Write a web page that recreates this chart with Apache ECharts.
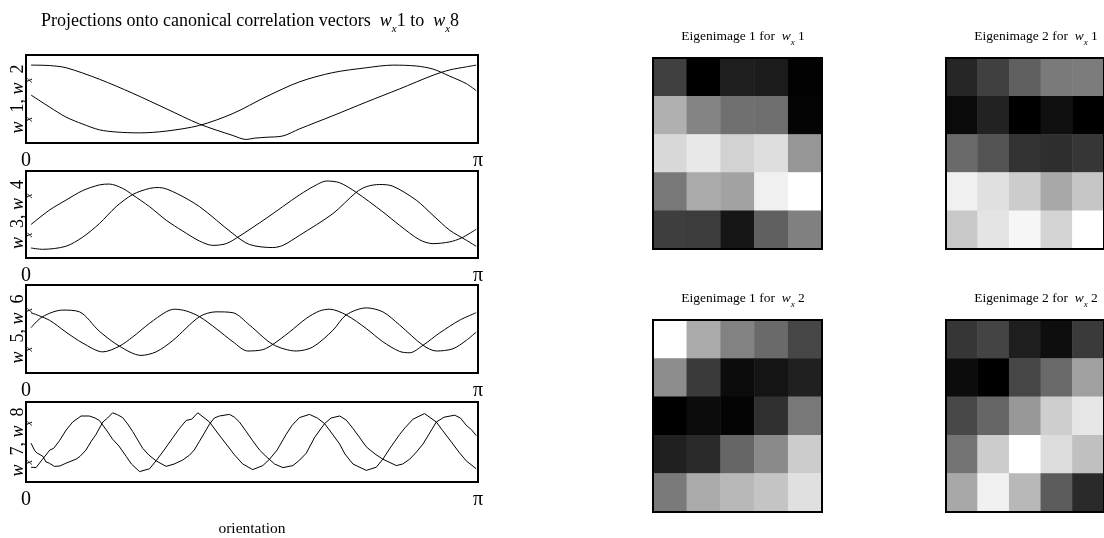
<!DOCTYPE html>
<html>
<head>
<meta charset="utf-8">
<script src="https://cdn.jsdelivr.net/npm/echarts@6/dist/echarts.min.js"></script>
<style>
  html, body { margin: 0; background: #fff; }
  #chart { width: 1104px; height: 538px; }
</style>
</head>
<body>
<div id="chart"></div>
<script>
// projections, [orientation in degrees (180 = π), value]
const w1 = [[2,0.77],[9.3,0.76],[16,0.71],[29.2,0.45],[42.5,0.13],[55.8,-0.22],[69.1,-0.57],[82.4,-0.83],[87.7,-0.92],[91,-0.89],[95.6,-0.87],[102.3,-0.84],[108.9,-0.68],[122.2,-0.38],[135.5,-0.07],[148.8,0.23],[162.1,0.54],[168.7,0.66],[175.3,0.73],[179.3,0.77]]
const w2 = [[2,0.09],[9.3,-0.18],[15.9,-0.41],[22.6,-0.57],[29.2,-0.7],[35.9,-0.75],[45.2,-0.77],[55.8,-0.73],[69.1,-0.6],[82.4,-0.33],[95.6,0.05],[108.9,0.39],[122.2,0.6],[135.5,0.71],[146.1,0.77],[155.4,0.75],[162.1,0.68],[168.7,0.52],[175.3,0.35],[179.3,0.19]]
const w3 = [[2,-0.23],[9.3,0.1],[15.9,0.33],[22.6,0.55],[29.2,0.68],[33.2,0.7],[38.5,0.6],[42.5,0.45],[49.2,0.18],[55.8,-0.13],[62.4,-0.38],[69.1,-0.61],[74.4,-0.71],[79.7,-0.67],[84.4,-0.52],[95.6,-0.09],[108.9,0.45],[115.6,0.68],[119.6,0.77],[124.9,0.73],[131.5,0.51],[142.1,0.06],[148.8,-0.25],[156.7,-0.58],[162.1,-0.67],[168.7,-0.63],[173.4,-0.54],[179.3,-0.34]]
const w4 = [[2,-0.77],[6.6,-0.8],[15.9,-0.73],[22.6,-0.52],[29.2,-0.21],[35.9,0.18],[42.5,0.46],[49.2,0.6],[53.1,0.62],[59.8,0.49],[69.1,0.18],[82.4,-0.44],[89,-0.69],[98.3,-0.76],[102.3,-0.71],[108.9,-0.48],[122.2,0.02],[131.5,0.51],[135.5,0.64],[140.8,0.69],[146.1,0.65],[155.4,0.33],[162.1,-0.02],[168.7,-0.36],[175.3,-0.59],[179.3,-0.73]]
const w5 = [[2,0.37],[9.3,0.2],[15.9,-0.07],[22.6,-0.32],[30.6,-0.52],[37.2,-0.39],[42.5,-0.18],[49.2,0.13],[55.8,0.39],[59.1,0.45],[63.8,0.41],[69.1,0.28],[75.7,0.01],[82.4,-0.29],[88.3,-0.5],[94.3,-0.47],[98.3,-0.35],[104.9,-0.07],[111.6,0.24],[116.9,0.41],[120.9,0.45],[127.5,0.32],[135.5,0.01],[142.1,-0.29],[148.8,-0.51],[152.8,-0.54],[158.1,-0.37],[164.7,-0.09],[172.7,0.2],[179.3,0.37]]
const w6 = [[2,0.03],[6.6,0.28],[14.6,0.43],[21.3,0.39],[29.2,-0.05],[37.2,-0.39],[45.8,-0.6],[51.8,-0.52],[58.5,-0.26],[69.1,0.28],[75.7,0.39],[82.4,0.37],[89,0.09],[98.3,-0.35],[107.6,-0.5],[114.2,-0.41],[122.2,-0.03],[127.5,0.32],[135.5,0.48],[142.1,0.39],[148.8,0.09],[158.1,-0.37],[163.4,-0.5],[170,-0.45],[175.3,-0.26],[179.3,-0.07]]
const w7 = [[2,-0.63],[4,-0.64],[6.6,-0.43],[9.5,-0.2],[11,-0.16],[13.3,0.03],[16,0.3],[18.6,0.5],[21.9,0.65],[25.2,0.65],[27.5,0.6],[29.2,0.54],[32,0.3],[34.5,0.07],[37,-0.1],[39.9,-0.36],[42,-0.55],[45.2,-0.74],[49.2,-0.67],[51.8,-0.47],[55,-0.2],[58.5,0.11],[61,0.33],[63.8,0.54],[66,0.57],[68.4,0.73],[73.1,0.5],[76,0.25],[79.7,-0.05],[83,-0.32],[86.3,-0.55],[90.3,-0.69],[94.3,-0.59],[97,-0.43],[100,-0.2],[103.6,0.19],[106,0.42],[108.9,0.61],[112.9,0.69],[116,0.6],[118.9,0.46],[122,0.2],[124.9,-0.05],[127,-0.3],[130.2,-0.55],[135.5,-0.71],[139.5,-0.63],[142.1,-0.43],[145,-0.15],[148.8,0.19],[151,0.36],[154.1,0.57],[158.7,0.71],[163.4,0.5],[166,0.28],[170,-0.05],[172.5,-0.26],[175.3,-0.47],[179.3,-0.67]]
const w8 = [[2,-0.03],[3.5,-0.22],[4.5,-0.28],[6.6,-0.35],[8,-0.5],[9.3,-0.53],[11.3,-0.61],[13.5,-0.6],[15.9,-0.53],[19.9,-0.43],[21.5,-0.36],[23.9,-0.2],[26,0.02],[27.9,0.19],[30.6,0.5],[32.5,0.6],[34.5,0.73],[36.5,0.68],[38.5,0.61],[40.5,0.45],[42.5,0.26],[44.5,0.05],[46.5,-0.16],[49,-0.33],[51.8,-0.47],[55.8,-0.61],[59,-0.55],[62.4,-0.45],[65.1,-0.33],[67,-0.2],[69.1,0.02],[71,0.22],[73.1,0.45],[75,0.6],[77,0.65],[81,0.69],[83,0.62],[85,0.5],[87.5,0.28],[90.3,0.03],[93,-0.2],[95.6,-0.36],[99,-0.55],[102.3,-0.64],[106.3,-0.59],[109,-0.45],[111.6,-0.28],[115,0.12],[118.9,0.46],[121.5,0.6],[124.9,0.65],[127.5,0.55],[130.2,0.34],[133,0.1],[135.5,-0.12],[139,-0.3],[142.1,-0.43],[147.5,-0.59],[150,-0.55],[152.8,-0.43],[155.5,-0.25],[158.1,-0.05],[161,0.25],[163.4,0.5],[166.5,0.62],[170.7,0.67],[173,0.6],[175.3,0.42],[177.5,0.3],[179.3,0.16]]

// eigenimages, grey level per pixel (0 black .. 255 white), rows top to bottom
const eig1w1 = [[64,0,30,28,2],[176,132,112,110,4],[216,232,210,222,150],[120,170,162,240,255],[62,60,22,96,128]]
const eig2w1 = [[38,64,96,122,124],[10,34,0,16,0],[106,84,50,46,54],[240,224,204,168,198],[200,228,246,212,255]]
const eig1w2 = [[255,170,130,106,70],[140,58,12,20,32],[0,12,4,48,120],[32,42,102,138,204],[122,170,184,196,224]]
const eig2w2 = [[54,68,30,14,58],[12,0,70,106,160],[72,102,152,206,230],[116,204,255,220,192],[168,240,184,92,42]]

const pixelCols = ['1', '2', '3', '4', '5']
const pixelRows = ['1', '2', '3', '4', '5']

const serif = 'Liberation Serif'

// rich text styles; the subscript x is pushed down with top padding
function richStyles (size, subSize, subDrop) {
  return {
    n: { fontSize: size, fontFamily: serif, fontWeight: 'normal', color: '#000' },
    w: { fontSize: size, fontFamily: serif, fontStyle: 'italic', fontWeight: 'normal', color: '#000' },
    s: { fontSize: subSize, fontFamily: serif, fontStyle: 'italic', fontWeight: 'normal', color: '#000', padding: [subDrop, 0, 0, 0] }
  }
}

const lineBoxes = [[55, 88], [171, 87], [285, 88], [402, 86]]
const linePairs = [[w1, w2, 1, 2], [w3, w4, 3, 4], [w5, w6, 5, 6], [w7, w8, 7, 8]]

const heatBoxes = [[653, 58, 169, 191], [946, 58, 170, 191], [653, 320, 169, 192], [946, 320, 170, 192]]
const heatImages = [eig1w1, eig2w1, eig1w2, eig2w2]
const heatTitles = [['1', '1'], ['2', '1'], ['1', '2'], ['2', '2']]

const grid = []
const xAxis = []
const yAxis = []
const series = []

lineBoxes.forEach(function (b, i) {
  grid.push({ left: 26, width: 452, top: b[0], height: b[1], show: true, borderColor: '#000', borderWidth: 2, z: 5 })
  xAxis.push({
    type: 'value', gridIndex: i, min: 0, max: 180, interval: 180,
    axisLine: { show: false }, axisTick: { show: false }, splitLine: { show: false },
    axisLabel: {
      margin: 8, fontSize: 20, fontFamily: serif, color: '#000',
      formatter: function (v) { return v === 0 ? '0' : 'π' }
    },
    name: i === 3 ? 'orientation' : '',
    nameLocation: 'middle', nameGap: 39,
    nameTextStyle: { fontSize: 15.5, fontFamily: serif, color: '#000' }
  })
  const p = linePairs[i]
  yAxis.push({
    type: 'value', gridIndex: i, min: -1, max: 1,
    axisLine: { show: false }, axisTick: { show: false }, splitLine: { show: false },
    axisLabel: { show: false },
    name: '{w|w}{s|x}{n| ' + p[2] + ', }{w|w}{s|x}{n| ' + p[3] + '}',
    nameLocation: 'middle', nameRotate: 90, nameGap: -8,
    nameTextStyle: { rich: richStyles(18, 10, 22) }
  })
  ;[p[0], p[1]].forEach(function (d) {
    series.push({
      type: 'line', xAxisIndex: i, yAxisIndex: i, data: d,
      showSymbol: false, smooth: i < 3 ? 0.3 : false,
      lineStyle: { color: '#000', width: 1 }, silent: true
    })
  })
})

heatBoxes.forEach(function (b, k) {
  const gi = 4 + k
  grid.push({ left: b[0], top: b[1], width: b[2], height: b[3], show: true, borderColor: '#000', borderWidth: 2, z: 5 })
  xAxis.push({ type: 'category', gridIndex: gi, data: pixelCols, show: false })
  yAxis.push({ type: 'category', gridIndex: gi, data: pixelRows, inverse: true, show: false })
  const cells = []
  heatImages[k].forEach(function (row, r) {
    row.forEach(function (v, c) { cells.push([c, r, v]) })
  })
  series.push({
    type: 'heatmap', xAxisIndex: gi, yAxisIndex: gi, data: cells,
    itemStyle: { borderWidth: 0 }, emphasis: { disabled: true }, silent: true
  })
})

const titles = [{
  text: '{n|Projections onto canonical correlation vectors  }{w|w}{s|x}{n|1 to  }{w|w}{s|x}{n|8}',
  left: 245, top: 3, textAlign: 'center',
  textStyle: { fontWeight: 'normal', rich: richStyles(18, 11, 16) }
}]
heatTitles.forEach(function (t, k) {
  const b = heatBoxes[k]
  titles.push({
    text: '{n|Eigenimage ' + t[0] + ' for  }{w|w}{s|x}{n| ' + t[1] + '}',
    left: b[0] + 85, top: b[1] - 37, textAlign: 'center',
    textStyle: { fontWeight: 'normal', rich: richStyles(13.5, 9, 12) }
  })
})

const chart = echarts.init(document.getElementById('chart'), null, { renderer: 'canvas' })
chart.setOption({
  animation: false,
  backgroundColor: '#fff',
  title: titles,
  grid: grid,
  xAxis: xAxis,
  yAxis: yAxis,
  visualMap: {
    show: false, type: 'continuous', min: 0, max: 255,
    seriesIndex: [8, 9, 10, 11],
    inRange: { color: ['#000000', '#ffffff'] }
  },
  series: series
})
</script>
</body>
</html>
